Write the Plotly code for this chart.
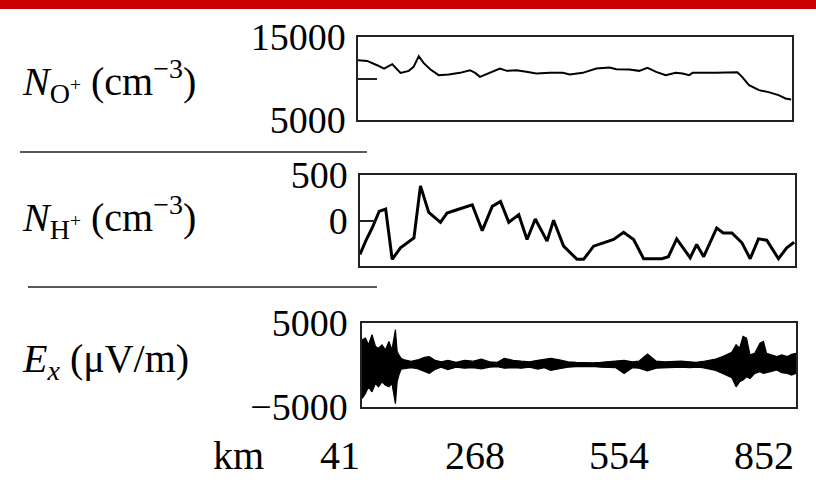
import plotly.graph_objects as go

# ---------------- data ----------------
# normalized position along the pass (0-100); km labels at equal steps
km_tick_pos = [0, 33.333, 66.667, 100]
km_tick_labels = ["41", "268", "554", "852"]

# O+ density (cm^-3)
t_o = [0, 2.1, 4.4, 6.0, 7.9, 9.8, 11.7, 12.8, 14.0, 15.1, 16.7, 18.6, 20.9, 23.5,
       25.8, 27.0, 28.1, 30.4, 32.7, 34.3, 36.5, 38.8, 41.1, 44.2, 47.2, 48.8, 51.8,
       54.9, 58.0, 59.5, 62.5, 64.8, 66.7, 68.7, 70.9, 73.2, 74.8, 76.3, 77.1, 82.4,
       87.4, 88.5, 90.1, 92.4, 94.6, 96.9, 98.5, 99.8]
n_o = [12200, 12120, 11600, 11200, 11720, 10680, 10920, 11400, 12680, 11880, 11080,
       10400, 10480, 10680, 11000, 10680, 10200, 10680, 11200, 10920, 11000, 10800,
       10600, 10680, 10680, 10480, 10680, 11200, 11320, 11120, 11080, 10920, 11280,
       10800, 10400, 10680, 10600, 10400, 10680, 10680, 10760, 10200, 9200, 8600,
       8360, 8000, 7600, 7480]

# H+ density (cm^-3)
t_h = [0, 1.3, 2.8, 4.4, 5.9, 7.4, 9.3, 10.9, 12.4, 13.9, 15.8, 18.5, 20.0, 22.3,
       25.8, 28.1, 30.4, 32.3, 34.2, 36.5, 38.4, 40.3, 43.0, 44.5, 46.8, 49.9, 51.4,
       53.7, 56.0, 58.3, 60.6, 62.9, 65.2, 69.4, 70.9, 72.8, 75.9, 77.4, 79.0, 82.0,
       83.5, 85.5, 87.8, 89.7, 91.6, 93.5, 96.2, 98.1, 99.8]
n_h = [-373, -227, -82, 100, 125, -427, -300, -245, -191, 380, 89, -20, 82, 118,
       173, -111, 155, 209, -20, 64, -209, 16, -227, 2, -282, -427, -427, -282, -245,
       -209, -129, -209, -420, -420, -398, -202, -409, -264, -398, -82, -136, -136,
       -245, -420, -202, -216, -420, -300, -238]

# Ex (uV/m): upper and lower envelope of the oscillating signal
t_e = [0, 0.8, 1.5, 2.3, 3.1, 3.8, 4.6, 5.4, 6.2, 6.9, 7.7, 8.1, 8.5, 9.0,
       9.8, 11.3, 12.8, 14.4, 15.5, 16.7, 18.2, 19.8, 21.7, 23.6, 25.5, 27.5, 29.4,
       31.2, 32.8, 34.8, 36.7, 38.6, 40.5, 42.0, 43.5, 45.5, 47.5, 49.3, 51.2, 53.1,
       55.0, 57.0, 58.5, 60.4, 62.3, 63.8, 65.8, 67.8, 69.7, 71.6, 73.5, 75.5, 77.0,
       78.5, 80.0, 81.5, 83.1, 85.2, 86.2, 87.0, 87.8, 88.6, 89.4, 90.5, 91.7, 92.5,
       93.2, 94.4, 95.6, 96.7, 98.0, 99.0, 100]
e_up = [3000, 3200, 2400, 3600, 2200, 2000, 2400, 1800, 2800, 1800, 4200, 1600, 1200, 800,
        600, 450, 600, 900, 1000, 600, 380, 560, 320, 560, 450, 700, 380,
        320, 800, 560, 450, 380, 560, 700, 800, 600, 380, 320, 260, 260,
        320, 380, 450, 560, 380, 450, 1300, 450, 380, 420, 450, 380, 320,
        420, 600, 700, 1000, 1500, 2400, 2000, 3400, 3200, 1200, 1400, 2600, 2800,
        1400, 1200, 1000, 1200, 1000, 1280, 1400]
e_lo = [-4000, -3400, -2600, -3200, -2200, -2600, -2000, -2400, -2600, -2200, -4600, -2000, -1200, -500,
        -450, -320, -450, -800, -1000, -560, -260, -560, -260, -380, -320, -450, -260,
        -200, -380, -320, -380, -260, -480, -320, -650, -450, -260, -200, -160, -160,
        -260, -260, -320, -1000, -320, -380, -700, -380, -320, -320, -260, -320, -260,
        -320, -480, -650, -1000, -1500, -2600, -2000, -1800, -1400, -1600, -1000, -800, -1000,
        -920, -800, -600, -920, -1000, -1200, -1000]

# ---------------- figure ----------------
W, H = 816, 482
FONT = "Liberation Serif"


def px(x):
    return x / W


def py(y):
    return 1 - y / H


fig = go.Figure()
fig.add_trace(go.Scatter(x=t_o, y=n_o, xaxis="x", yaxis="y", mode="lines",
                         line=dict(color="black", width=2), showlegend=False))
fig.add_trace(go.Scatter(x=t_h, y=n_h, xaxis="x2", yaxis="y2", mode="lines",
                         line=dict(color="black", width=3), showlegend=False))
fig.add_trace(go.Scatter(x=t_e, y=e_up, xaxis="x3", yaxis="y3", mode="lines",
                         line=dict(color="black", width=1.2), showlegend=False))
fig.add_trace(go.Scatter(x=t_e, y=e_lo, xaxis="x3", yaxis="y3", mode="lines",
                         line=dict(color="black", width=1.2), fill="tonexty",
                         fillcolor="black", showlegend=False))

box = dict(showline=True, mirror=True, linecolor="#222", linewidth=1.5,
           showgrid=False, zeroline=False, automargin=False)
tickfont = dict(family=FONT, size=38, color="black")

xcommon = dict(range=[0, 100], showticklabels=False, ticks="", **box)

fig.update_layout(
    width=W, height=H, margin=dict(l=0, r=0, t=0, b=0, autoexpand=False),
    paper_bgcolor="white", plot_bgcolor="white",
    font=dict(family=FONT, color="black"),
    xaxis=dict(domain=[px(358), px(792)], anchor="y", **xcommon),
    xaxis2=dict(domain=[px(360), px(795)], anchor="y2", **xcommon),
    xaxis3=dict(domain=[px(362), px(796)], anchor="y3", **xcommon),
    yaxis=dict(domain=[py(120), py(37)], anchor="x", range=[5000, 15000],
               tickvals=[5000, 10000, 15000], ticktext=["5000", "", "15000"],
               ticks="inside", ticklen=19, tickwidth=1.5, tickcolor="#222",
               tickfont=tickfont, ticklabelstandoff=3, **box),
    yaxis2=dict(domain=[py(266), py(175)], anchor="x2", range=[-500, 500],
                tickvals=[-500, 0, 500], ticktext=["", "0", "500"],
                ticks="inside", ticklen=15, tickwidth=1.5, tickcolor="#222",
                tickfont=tickfont, ticklabelstandoff=3, **box),
    yaxis3=dict(domain=[py(407), py(323)], anchor="x3", range=[-5000, 5000],
                tickvals=[-5000, 5000], ticktext=["\u22125000", "5000"],
                ticks="", tickfont=tickfont, ticklabelstandoff=5, **box),
)

titles = [
    ("<i>N</i><sub>O<sup>+</sup></sub> (cm<sup>\u22123</sup>)", 81),
    ("<i>N</i><sub>H<sup>+</sup></sub> (cm<sup>\u22123</sup>)", 217),
    ("<i>E</i><sub><i>x</i></sub> (\u03bcV/m)", 361),
]
for text, yc in titles:
    fig.add_annotation(text=text, xref="paper", yref="paper", x=px(20), y=py(yc),
                       xanchor="left", yanchor="middle", showarrow=False,
                       font=dict(family=FONT, size=40, color="black"))

# km labels along the bottom, right-aligned to their positions
fig.add_annotation(text="km", xref="paper", yref="paper", x=px(266), y=py(455),
                   xanchor="right", yanchor="middle", showarrow=False,
                   font=dict(family=FONT, size=40, color="black"))
for pos, lab in zip(km_tick_pos, km_tick_labels):
    fig.add_annotation(text=lab, xref="x3", yref="paper", x=pos, y=py(455),
                       xanchor="right", yanchor="middle", showarrow=False,
                       font=dict(family=FONT, size=40, color="black"))

# separators and top band
fig.add_shape(type="line", xref="paper", yref="paper", x0=px(20), x1=px(367),
              y0=py(152), y1=py(152), line=dict(color="#222", width=1.5))
fig.add_shape(type="line", xref="paper", yref="paper", x0=px(28), x1=px(377),
              y0=py(287), y1=py(287), line=dict(color="#222", width=1.5))
fig.add_shape(type="rect", xref="paper", yref="paper", x0=0, x1=1,
              y0=py(9), y1=1, line=dict(width=0), fillcolor="#cc0000")

fig.write_html("out.html")
